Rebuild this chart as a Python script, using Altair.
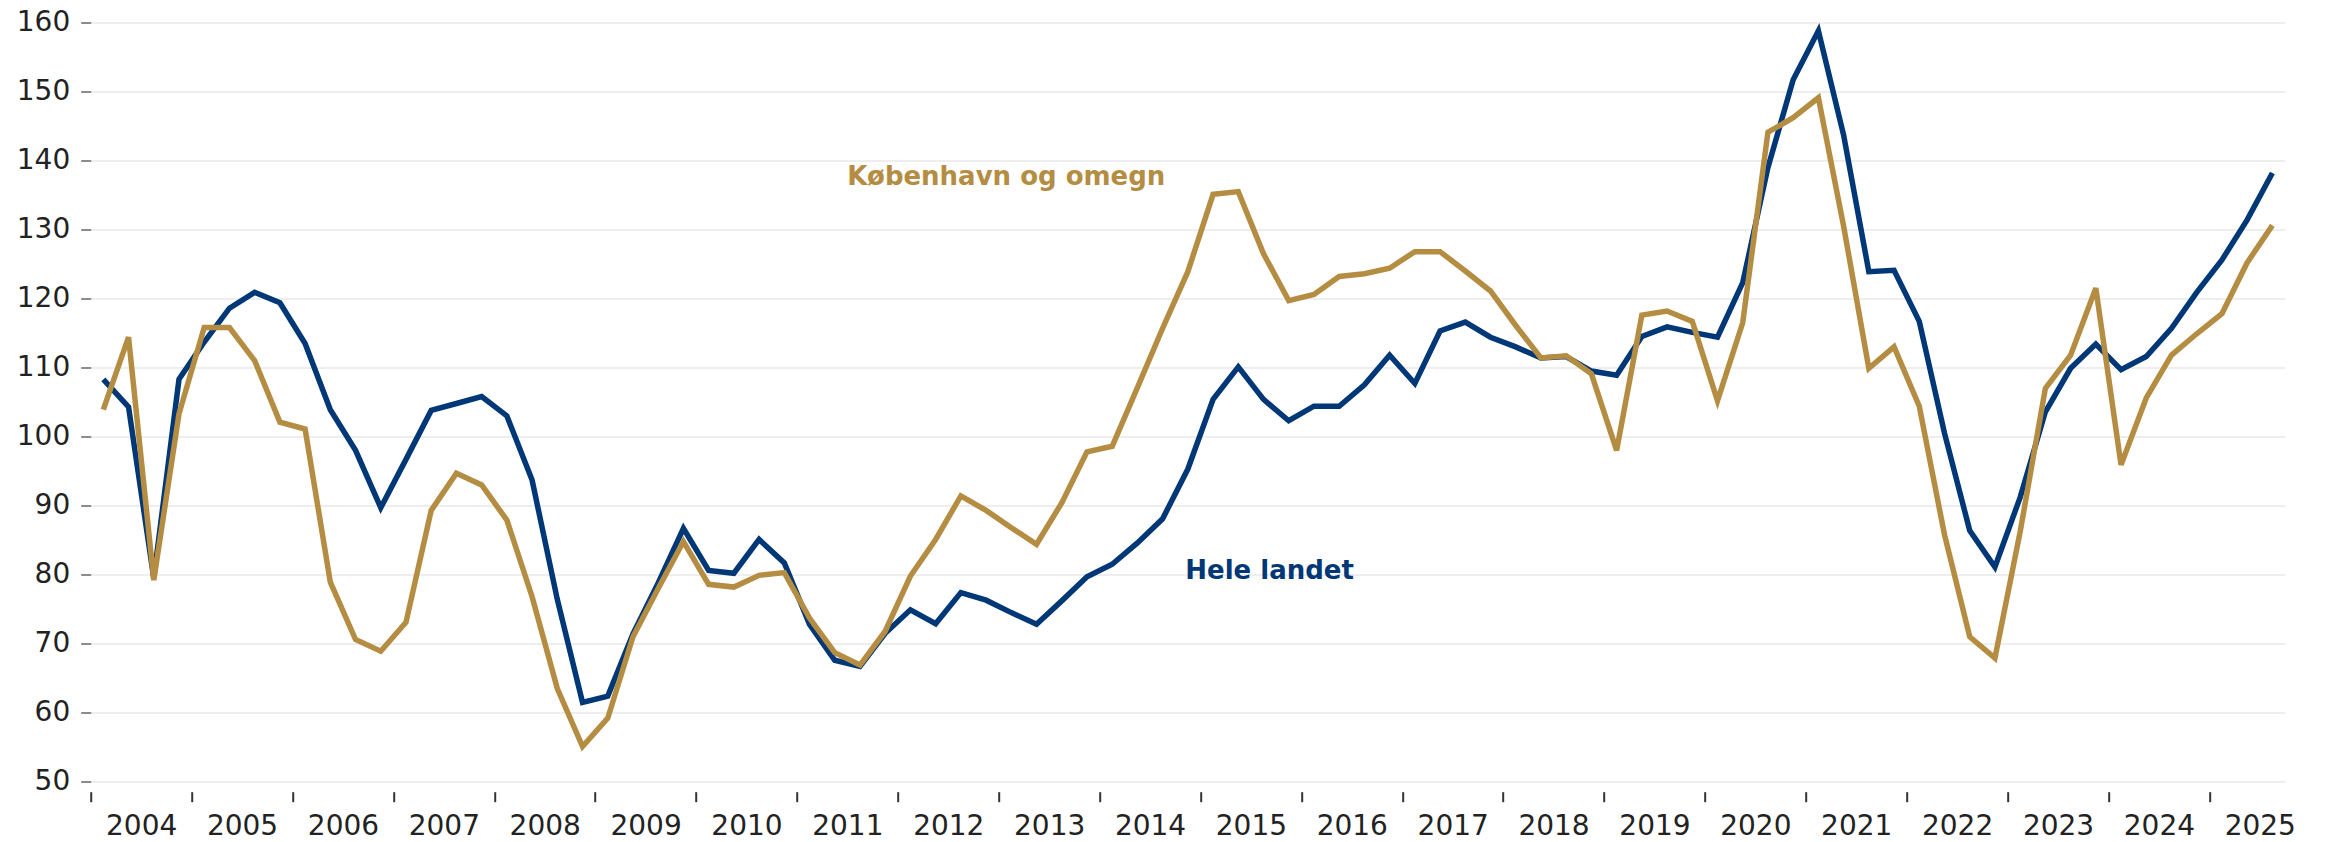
import altair as alt
import pandas as pd

# Quarterly index, 2004K1 .. 2025K3
start_year = 2004
n_quarters = 87
quarters = [f"{start_year + i // 4}K{i % 4 + 1}" for i in range(n_quarters)]

hele_landet = [
    108.3, 104.3, 79.5, 108.3, 113.7, 118.6, 120.9, 119.4,
    113.5, 103.9, 98.0, 89.7, 96.7, 103.8, 104.8, 105.8,
    103.0, 93.7, 76.4, 61.5, 62.4, 71.4, 78.8, 86.7,
    80.6, 80.2, 85.1, 81.7, 72.8, 67.6, 66.7, 71.5,
    74.9, 72.9, 77.4, 76.3, 74.5, 72.8, 76.2, 79.7,
    81.5, 84.6, 88.1, 95.3, 105.4, 110.1, 105.4, 102.3,
    104.4, 104.4, 107.5, 111.8, 107.7, 115.3, 116.6, 114.4,
    113.0, 111.4, 111.6, 109.5, 108.9, 114.5, 115.9, 115.1,
    114.4, 122.3, 139.0, 151.7, 158.8, 143.7, 123.9, 124.1,
    116.7, 100.5, 86.4, 81.1, 91.2, 103.6, 109.9, 113.4,
    109.7, 111.6, 115.7, 120.9, 125.6, 131.4, 138.2,
]

koebenhavn = [
    103.9, 114.4, 79.2, 103.3, 115.8, 115.8, 111.0, 102.1,
    101.1, 78.9, 70.6, 68.9, 73.1, 89.3, 94.7, 93.0,
    87.9, 76.8, 63.5, 55.1, 59.2, 71.0, 78.0, 84.8,
    78.6, 78.2, 79.9, 80.3, 73.7, 68.7, 66.9, 71.8,
    79.8, 85.1, 91.4, 89.3, 86.8, 84.4, 90.4, 97.8,
    98.6, 107.1, 115.7, 123.9, 135.1, 135.5, 126.5, 119.7,
    120.6, 123.2, 123.6, 124.4, 126.8, 126.8, 124.0, 121.1,
    116.1, 111.4, 111.7, 109.1, 98.0, 117.6, 118.2, 116.7,
    105.2, 116.5, 144.1, 146.2, 149.1, 130.5, 109.9, 113.0,
    104.4, 85.8, 71.0, 67.9, 86.2, 107.0, 111.8, 121.5,
    95.9, 105.6, 111.8, 114.9, 117.8, 125.2, 130.6,
]

series_names = ["Hele landet", "København og omegn"]
series_colors = ["#003777", "#B48D43"]

# annotation labels (in data units: quarter index, index value)
ann_text = ["København og omegn", "Hele landet"]
ann_x = [30.0, 43.4]
ann_y = [136.4, 79.4]

y_ticks = list(range(50, 161, 10))
year_ticks = list(range(0, 85, 4))


def qpos(label):
    y, q = label.split("K")
    return (int(y) - start_year) * 4 + (int(q) - 1) + 0.5


rows = []
for name, vals in zip(series_names, [hele_landet, koebenhavn]):
    for lab, v in zip(quarters, vals):
        rows.append({"kvartal": lab, "t": qpos(lab), "serie": name, "indeks": v})
df = pd.DataFrame(rows)

ann = pd.DataFrame({"tekst": ann_text, "t": ann_x, "v": ann_y, "serie": series_names[::-1]})

FONT = "DejaVu Sans"

x_enc = alt.X(
    "t:Q",
    scale=alt.Scale(domain=[0, n_quarters], nice=False, zero=False),
    axis=alt.Axis(
        values=year_ticks,
        labelExpr="format(2004 + datum.value / 4, 'd')",
        title=None,
        grid=False,
        domain=False,
        offset=10,
        tickSize=10,
        tickWidth=2,
        tickColor="#333333",
        labelOffset=50.45,
        labelAlign="center",
        labelPadding=11,
        labelFont=FONT,
        labelFontSize=28,
        labelColor="#222222",
        labelOverlap=False,
        labelFlush=False,
    ),
)
y_enc = alt.Y(
    "indeks:Q",
    scale=alt.Scale(domain=[50, 160], nice=False, zero=False),
    axis=alt.Axis(
        values=y_ticks,
        title=None,
        domain=False,
        grid=True,
        gridColor="#e9e9e9",
        gridWidth=1.5,
        tickSize=10,
        tickWidth=1.5,
        tickColor="#666666",
        labelPadding=11,
        labelFont=FONT,
        labelFontSize=28,
        labelColor="#222222",
    ),
)

color_scale = alt.Scale(domain=series_names, range=series_colors)

blue = (
    alt.Chart(df[df.serie == series_names[0]])
    .mark_line(strokeWidth=5.5, strokeJoin="miter")
    .encode(x=x_enc, y=y_enc, color=alt.Color("serie:N", scale=color_scale, legend=None))
)
gold = (
    alt.Chart(df[df.serie == series_names[1]])
    .mark_line(strokeWidth=5.5, strokeJoin="miter")
    .encode(x="t:Q", y="indeks:Q", color=alt.Color("serie:N", scale=color_scale, legend=None))
)
labels = (
    alt.Chart(ann)
    .mark_text(align="left", baseline="alphabetic", font=FONT, fontSize=26, fontWeight="bold")
    .encode(
        x="t:Q",
        y=alt.Y("v:Q"),
        text="tekst:N",
        color=alt.Color("serie:N", scale=color_scale, legend=None),
    )
)

chart = (
    alt.layer(blue, gold, labels)
    .properties(
        width=2194.3,
        height=759.2,
        autosize=alt.AutoSizeParams(type="none"),
        padding={"left": 82.7, "top": 14.5, "right": 35, "bottom": 70},
        background="white",
    )
    .configure_view(stroke=None)
)

chart.save("out.html", embed_options={"renderer": "svg", "actions": False})
